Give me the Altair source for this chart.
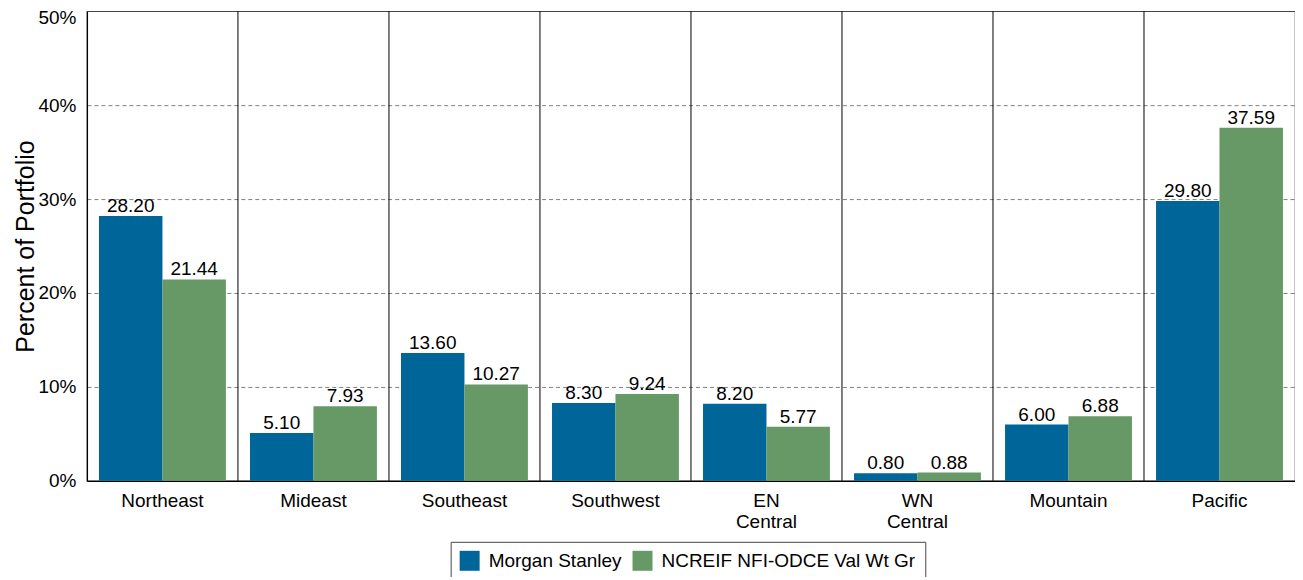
import altair as alt
import pandas as pd

regions = ["Northeast", "Mideast", "Southeast", "Southwest", "EN Central", "WN Central", "Mountain", "Pacific"]
morgan = [28.20, 5.10, 13.60, 8.30, 8.20, 0.80, 6.00, 29.80]
ncreif = [21.44, 7.93, 10.27, 9.24, 5.77, 0.88, 6.88, 37.59]
series = ["Morgan Stanley", "NCREIF NFI-ODCE Val Wt Gr"]
colors = ["#006699", "#669966"]
y_ticks = [0, 10, 20, 30, 40, 50]

rows = []
for i, r in enumerate(regions):
    rows.append({"region": r, "series": series[0], "value": morgan[i]})
    rows.append({"region": r, "series": series[1], "value": ncreif[i]})
df = pd.DataFrame(rows)
sep_df = pd.DataFrame({"region": regions[1:]})

FONT = "Liberation Sans"

x_enc = alt.X(
    "region:N", sort=regions,
    scale=alt.Scale(paddingInner=0, paddingOuter=0),
    axis=alt.Axis(title=None, labelAngle=0, labelAlign="center", bandPosition=0.5,
                  labelExpr="split(datum.value, ' ')",
                  ticks=False, domain=True, domainColor="#000000", domainWidth=1.2,
                  labelFontSize=19, labelColor="#000000", labelPadding=20,
                  labelLineHeight=21, grid=False),
)
xoff_enc = alt.XOffset("series:N", sort=series,
                       scale=alt.Scale(paddingOuter=0.19, paddingInner=0))
y_enc = alt.Y(
    "value:Q",
    scale=alt.Scale(domain=[0, 50], nice=False),
    axis=alt.Axis(title="Percent of Portfolio", values=y_ticks,
                  labelExpr="datum.value + '%'", ticks=False,
                  domain=True, domainColor="#000000", domainWidth=1.2,
                  grid=True, gridColor="#808080", gridDash=[4, 3], gridWidth=1,
                  gridOpacity={"condition": {"test": "datum.value === 0 || datum.value === 50", "value": 0}, "value": 1},
                  labelOffset={"condition": {"test": "datum.value === 50", "value": 6}, "value": 0},
                  labelFontSize=19, labelColor="#000000", labelPadding=11,
                  titleFontSize=25, titleFontWeight="normal", titleColor="#000000",
                  titleX=-53, titleY=235, titleBaseline="alphabetic", titleAlign="center"),
)

bars = alt.Chart(df).mark_bar().encode(
    x=x_enc,
    xOffset=xoff_enc,
    y=y_enc,
    color=alt.Color("series:N", sort=series,
                    scale=alt.Scale(domain=series, range=colors),
                    legend=alt.Legend(title=None, orient="none", legendX=364, legendY=531,
                                      direction="horizontal", symbolType="square",
                                      symbolSize=400, symbolStrokeWidth=0,
                                      labelFontSize=19, labelColor="#000000", labelLimit=600,
                                      strokeColor="#444444", padding=9,
                                      columnPadding=10, labelOffset=9)),
)

labels = alt.Chart(df).mark_text(baseline="bottom", dy=0, fontSize=19, color="#000000").encode(
    x=alt.X("region:N", sort=regions),
    xOffset=alt.XOffset("series:N", sort=series),
    y=alt.Y("value:Q"),
    text=alt.Text("value:Q", format=".2f"),
)

seps = alt.Chart(sep_df).mark_rule(color="#000000", strokeWidth=1).encode(
    x=alt.X("region:N", sort=regions, bandPosition=0),
)

chart = alt.layer(seps, bars, labels).properties(
    width=1209, height=470,
    autosize=alt.AutoSizeParams(type="none"),
    padding={"left": 79, "top": 3, "right": 0, "bottom": 96},
).configure(font=FONT).configure_view(stroke="#444444", strokeWidth=1.2)

chart.save("out.html", embed_options={"renderer": "svg", "actions": False})
